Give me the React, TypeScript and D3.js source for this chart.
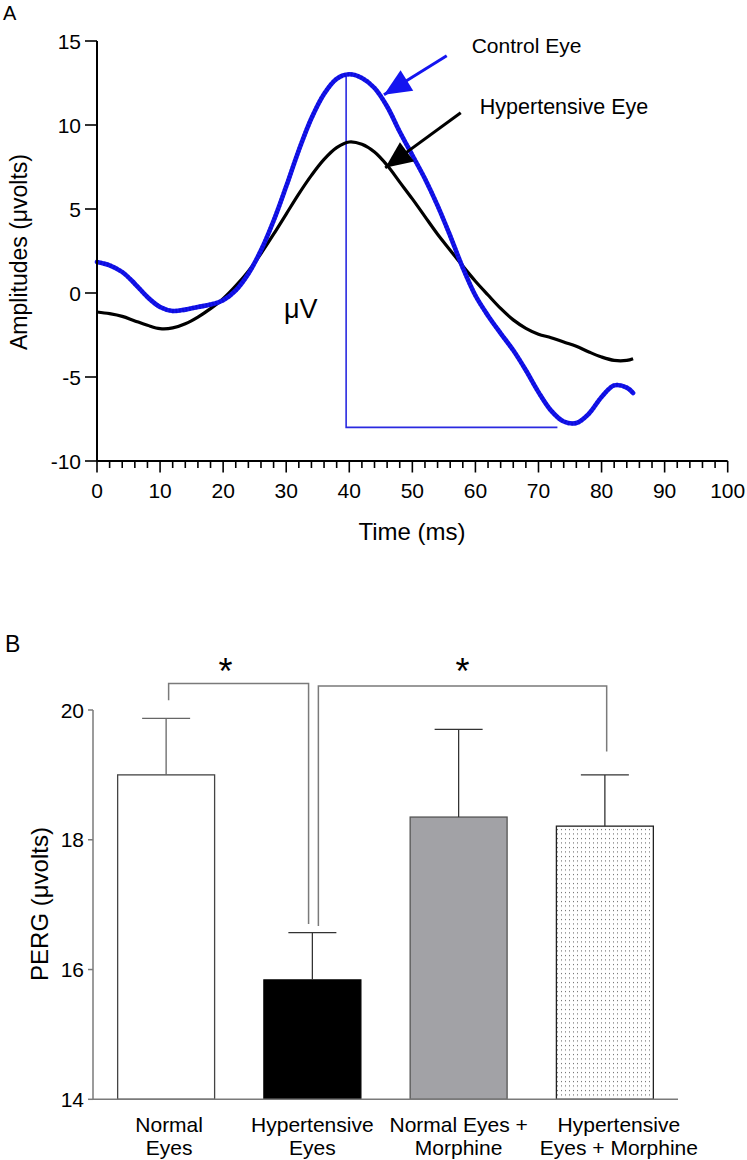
import React from "react";
import * as d3 from "d3";

// ---------- Panel A data ----------
const timeMs = [0, 2, 4, 6, 8, 10, 12, 14, 16, 18, 20, 22, 24, 26, 28, 30, 32, 34, 36, 38, 40, 42, 44, 46, 48, 50, 52, 54, 56, 58, 60, 62, 64, 66, 68, 70, 72, 74, 76, 78, 80, 82, 84, 85];
const controlEye = [1.85, 1.65, 1.25, 0.55, -0.24, -0.83, -1.07, -0.99, -0.83, -0.69, -0.43, 0.16, 1.15, 2.54, 4.3, 6.35, 8.5, 10.4, 11.85, 12.75, 13.02, 12.8, 12.2, 11.1, 9.6, 8.2, 6.8, 5.2, 3.4, 1.5, -0.15, -1.35, -2.4, -3.41, -4.6, -5.9, -7.0, -7.65, -7.74, -7.18, -6.19, -5.5, -5.63, -5.95];
const hypertensiveEye = [-1.13, -1.23, -1.39, -1.66, -1.92, -2.12, -2.08, -1.83, -1.43, -0.93, -0.34, 0.42, 1.3, 2.35, 3.5, 4.7, 5.9, 7.0, 7.95, 8.65, 8.99, 8.85, 8.39, 7.6, 6.6, 5.6, 4.55, 3.5, 2.55, 1.6, 0.7, -0.12, -0.92, -1.6, -2.1, -2.45, -2.66, -2.92, -3.17, -3.51, -3.81, -4.01, -4.01, -3.91];
const xTicksA = [0, 10, 20, 30, 40, 50, 60, 70, 80, 90, 100];
const yTicksA = [-10, -5, 0, 5, 10, 15];
// amplitude marker (time of peak, peak, trough level, end of trough line)
const markerPeakTime = 39.5;
const markerPeak = 13;
const markerTrough = -8;
const markerEnd = 73;

// ---------- Panel B data ----------
const groups = ["Normal Eyes", "Hypertensive Eyes", "Normal Eyes + Morphine", "Hypertensive Eyes + Morphine"];
const groupLabelLine1 = ["Normal", "Hypertensive", "Normal Eyes +", "Hypertensive"];
const groupLabelLine2 = ["Eyes", "Eyes", "Morphine", "Eyes + Morphine"];
const pergMean = [19.0, 15.84, 18.35, 18.21];
const pergUpper = [19.87, 16.57, 19.7, 19.0];
const yTicksB = [14, 16, 18, 20];

const FONT = "'Liberation Sans', Arial, Helvetica, sans-serif";

function arrowHead(x1: number, y1: number, x2: number, y2: number, len: number, half: number) {
  const dx = x2 - x1, dy = y2 - y1;
  const L = Math.hypot(dx, dy);
  const ux = dx / L, uy = dy / L;
  const bx = x2 - ux * len, by = y2 - uy * len;
  const px = -uy, py = ux;
  return `${x2},${y2} ${bx + px * half},${by + py * half} ${bx - px * half},${by - py * half}`;
}

export default function App() {
  // Panel A scales
  const xA = d3.scaleLinear().domain([0, 100]).range([97, 727.7]);
  const yA = d3.scaleLinear().domain([-10, 15]).range([461, 41]);
  const line = d3
    .line<number>()
    .x((_, i) => xA(timeMs[i]))
    .y((d) => yA(d))
    .curve(d3.curveCatmullRom.alpha(0.5));
  const minorTicks = d3.range(0, 101, 2);

  // arrows (data coordinates)
  const ctrlStart = [xA(55.45), yA(14.12)];
  const ctrlTip = [xA(45.5), yA(11.8)];
  const hypStart = [xA(57.67), yA(10.73)];
  const hypTip = [xA(45.7), yA(7.45)];

  // Panel B scales
  const xB = d3.scaleBand<string>().domain(groups).range([93, 678]).paddingInner(0.337).paddingOuter(0.1685);
  const yB = d3.scaleLinear().domain([14, 20]).range([1099.3, 710]);
  const bw = xB.bandwidth();
  const cx = (g: string) => (xB(g) as number) + bw / 2;
  const gray = "#7a7a7a";

  const fills = ["#ffffff", "#000000", "#a2a2a6", "url(#dots)"];
  const strokes = ["#444", "#000", "#555", "#222"];

  // significance brackets
  const b1Left = cx(groups[0]) + 2.5;
  const b1Right = cx(groups[1]) - 3.8;
  const b2Left = cx(groups[1]) + 6;
  const b2Right = cx(groups[3]) + 1.8;

  return (
    <svg width={747} height={1160} style={{ position: "absolute", left: 0, top: 0 }} fontFamily={FONT}>
      <defs>
        <pattern id="dots" width={4} height={4.5} patternUnits="userSpaceOnUse">
          <rect width={4} height={4.5} fill="#ffffff" />
          <rect x={1} y={1} width={1} height={1} fill="#555" />
        </pattern>
      </defs>

      {/* ---------------- Panel A ---------------- */}
      <text x={3} y={20} fontSize={20}>A</text>

      {/* marker lines */}
      <path
        d={`M${xA(markerPeakTime)},${yA(markerPeak)}V${yA(markerTrough)}H${xA(markerEnd)}`}
        fill="none"
        stroke="#2a2ae0"
        strokeWidth={1.6}
      />

      {/* curves */}
      <path d={line(hypertensiveEye) || ""} fill="none" stroke="#000" strokeWidth={3.2} strokeLinejoin="round" />
      <path d={line(controlEye) || ""} fill="none" stroke="#1414f0" strokeWidth={4.6} strokeLinejoin="round" strokeLinecap="round" />
      <path d={line(controlEye) || ""} fill="none" stroke="#0000a8" strokeOpacity={0.35} strokeWidth={4.6} strokeDasharray="1.6 1.8" />

      {/* axes */}
      <line x1={xA(0)} x2={xA(100)} y1={yA(-10)} y2={yA(-10)} stroke="#000" strokeWidth={2} />
      <line x1={xA(0)} x2={xA(0)} y1={yA(-10)} y2={yA(15)} stroke="#000" strokeWidth={2} />
      {minorTicks.map((t) => (
        <line key={"m" + t} x1={xA(t)} x2={xA(t)} y1={yA(-10)} y2={yA(-10) + (t % 10 === 0 ? 11.5 : 7)} stroke="#000" strokeWidth={1.6} />
      ))}
      {xTicksA.map((t) => (
        <text key={"xt" + t} x={xA(t)} y={498} fontSize={21} textAnchor="middle">{t}</text>
      ))}
      {yTicksA.map((v) => (
        <g key={"yt" + v}>
          <line x1={xA(0) - 12} x2={xA(0)} y1={yA(v)} y2={yA(v)} stroke="#000" strokeWidth={1.6} />
          <text x={81} y={yA(v) + 7.5} fontSize={21} textAnchor="end">{v}</text>
        </g>
      ))}
      <text x={412} y={540} fontSize={24} textAnchor="middle">Time (ms)</text>
      <text transform="translate(27,252) rotate(-90)" fontSize={23} textAnchor="middle">Amplitudes (μvolts)</text>
      <text x={284} y={318} fontSize={27}>μV</text>

      {/* annotations */}
      <line x1={ctrlStart[0]} y1={ctrlStart[1]} x2={ctrlTip[0]} y2={ctrlTip[1]} stroke="#1414f0" strokeWidth={3} />
      <polygon points={arrowHead(ctrlStart[0], ctrlStart[1], ctrlTip[0], ctrlTip[1], 27, 12)} fill="#1414f0" />
      <line x1={hypStart[0]} y1={hypStart[1]} x2={hypTip[0]} y2={hypTip[1]} stroke="#000" strokeWidth={3} />
      <polygon points={arrowHead(hypStart[0], hypStart[1], hypTip[0], hypTip[1], 27, 12)} fill="#000" />
      <text x={xA(59.4)} y={53} fontSize={21}>Control Eye</text>
      <text x={xA(60.7)} y={114} fontSize={21.5}>Hypertensive Eye</text>

      {/* ---------------- Panel B ---------------- */}
      <text x={5} y={652} fontSize={23}>B</text>

      {/* bars */}
      {groups.map((g, i) => (
        <rect
          key={"bar" + g}
          x={xB(g)}
          y={yB(pergMean[i])}
          width={bw}
          height={yB(14) - yB(pergMean[i])}
          fill={fills[i]}
          stroke={strokes[i]}
          strokeWidth={1.3}
        />
      ))}
      {/* error bars */}
      {groups.map((g, i) => (
        <g key={"err" + g} stroke={i === 0 ? "#666" : "#333"} strokeWidth={1.3}>
          <line x1={cx(g)} x2={cx(g)} y1={yB(pergMean[i])} y2={yB(pergUpper[i])} />
          <line x1={cx(g) - 24} x2={cx(g) + 24} y1={yB(pergUpper[i])} y2={yB(pergUpper[i])} />
        </g>
      ))}

      {/* axes */}
      <line x1={93} x2={678} y1={yB(14)} y2={yB(14)} stroke={gray} strokeWidth={1.5} />
      <line x1={93} x2={93} y1={yB(14)} y2={yB(20)} stroke={gray} strokeWidth={1.5} />
      {yTicksB.map((v) => (
        <g key={"ybt" + v}>
          <line x1={88} x2={93} y1={yB(v)} y2={yB(v)} stroke={gray} strokeWidth={1.5} />
          <text x={84} y={yB(v) + 7.5} fontSize={21} textAnchor="end">{v}</text>
        </g>
      ))}
      <text transform="translate(48,904) rotate(-90)" fontSize={24} textAnchor="middle">PERG (μvolts)</text>

      {groups.map((g, i) => {
        const dx = i === 3 ? 14 : i === 0 ? 3 : 0;
        return (
          <g key={"lab" + g} fontSize={21} textAnchor="middle">
            <text x={cx(g) + dx} y={1131.5}>{groupLabelLine1[i]}</text>
            <text x={cx(g) + dx} y={1155}>{groupLabelLine2[i]}</text>
          </g>
        );
      })}

      {/* significance brackets */}
      <path
        d={`M${b1Left},${yB(20.15)}V${yB(20.41)}H${b1Right}V${yB(16.7)}`}
        fill="none"
        stroke={gray}
        strokeWidth={1.5}
      />
      <path
        d={`M${b2Left},${yB(16.67)}V${yB(20.37)}H${b2Right}V${yB(19.36)}`}
        fill="none"
        stroke={gray}
        strokeWidth={1.5}
      />
      <text x={(b1Left + b1Right) / 2 - 13} y={684} fontSize={36} textAnchor="middle">*</text>
      <text x={(b2Left + b2Right) / 2} y={684} fontSize={36} textAnchor="middle">*</text>
    </svg>
  );
}
